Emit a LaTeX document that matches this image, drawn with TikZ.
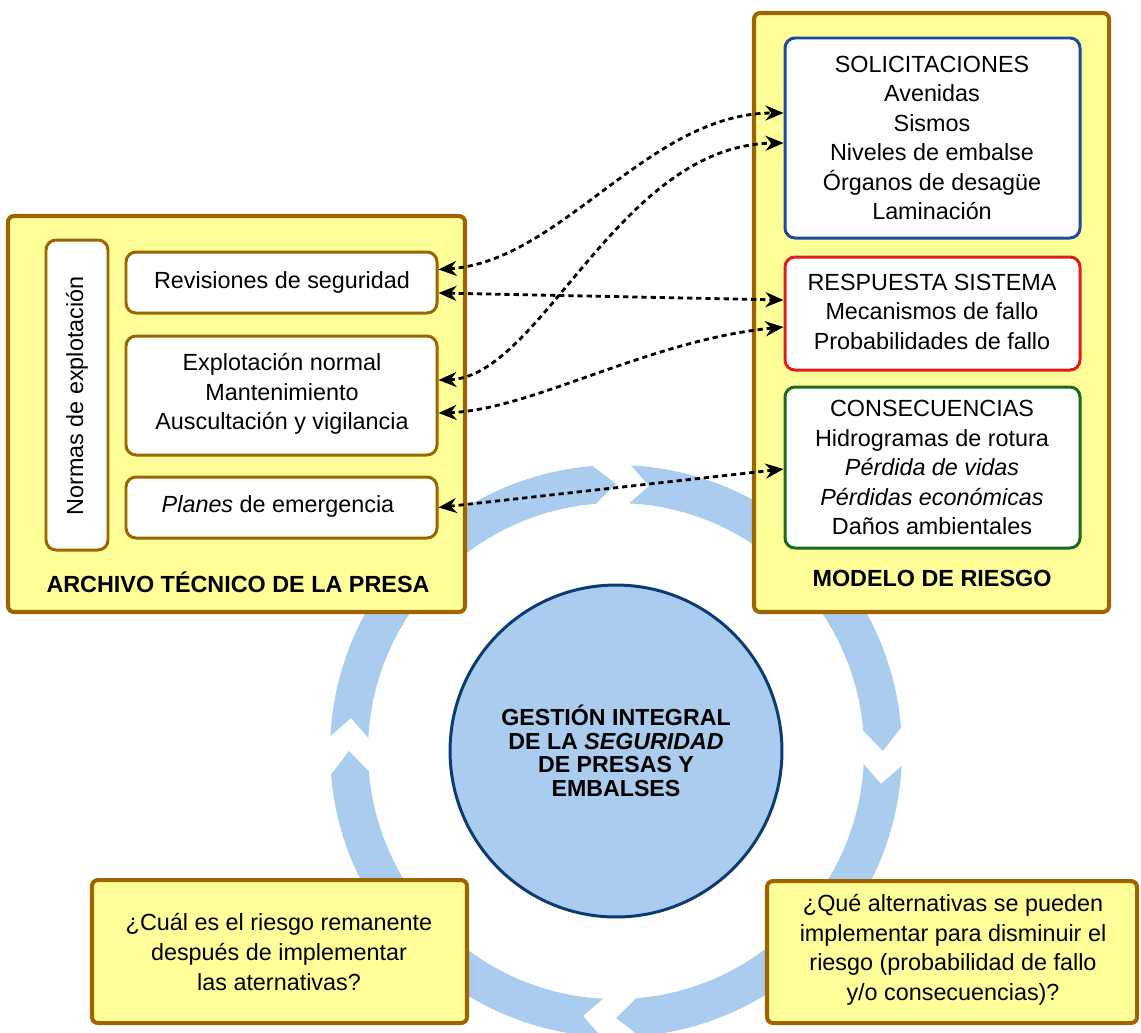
\documentclass[tikz,border=0pt]{standalone}
\usepackage{fontspec}
\setmainfont{Liberation Sans}
\usetikzlibrary{fit,calc,arrows.meta}
\definecolor{brownb}{HTML}{9C6500}
\definecolor{paleyel}{HTML}{FFFF99}
\definecolor{ringblue}{HTML}{AACCEE}
\definecolor{navy}{HTML}{0B3B72}
\definecolor{boxblue}{HTML}{1F4AA0}
\definecolor{boxred}{HTML}{E31B1B}
\definecolor{boxgreen}{HTML}{1B6B1B}
\begin{document}
\begin{tikzpicture}[x=0.02cm,y=-0.02cm,
  every node/.style={font=\fontsize{13.3}{16.8}\selectfont},
  bigbox/.style={draw=brownb, fill=paleyel, line width=2.3pt, rounded corners=0.12cm, inner sep=0pt},
  inbox/.style={draw=brownb, fill=white, line width=1.7pt, rounded corners=0.2cm, inner sep=0pt},
  solbox/.style={inbox, draw=boxblue},
  resbox/.style={inbox, draw=boxred},
  conbox/.style={inbox, draw=boxgreen},
  txt/.style={align=center, inner sep=0pt},
  titletxt/.style={font=\fontsize{13.3}{16.8}\selectfont\bfseries},
  coretxt/.style={font=\fontsize{13.2}{13.4}\selectfont\bfseries, align=center},
  ringpart/.style={fill=ringblue},
  conn/.style={line width=1.6pt, dash pattern=on 3pt off 2.2pt,
    {Stealth[length=3.6mm,width=3mm]}-{Stealth[length=3.6mm,width=3mm]}}
]
\useasboundingbox (0,0) rectangle (1141,1032);
\clip (0,0) rectangle (1141,1032);
% ring of four arrows
\def\Ro{286}\def\Ri{248}\def\Rm{267}
\foreach \g in {0,90,180,270}{
  \fill[ringpart, shift={(616,751)}]
    ({\g+3}:\Ro) arc[start angle={\g+3}, end angle={\g+85.3}, radius=\Ro]
    -- ({\g+90}:\Rm) -- ({\g+85.3}:\Ri)
    arc[start angle={\g+85.3}, end angle={\g+3}, radius=\Ri]
    -- ({\g+7.1}:\Rm) -- cycle;
}
% central circle
\node[circle, draw=navy, fill=ringblue, line width=1.7pt, minimum size=6.64cm, inner sep=0pt, coretxt] (core) at (616,751)
  {GESTIÓN INTEGRAL\\DE LA \textit{SEGURIDAD}\\DE PRESAS Y\\EMBALSES};
% left big box
\node[bigbox, fit={(8,216) (465,612)}] (arch) {};
\node[titletxt] (archt) at (238,582) {ARCHIVO TÉCNICO DE LA PRESA};
\node[inbox, fit={(46,240) (108,550)}] (normas) {};
\node[rotate=90] (normast) at (77,396) {Normas de explotación};
\node[inbox, fit={(126,252) (437,313)}] (rev) {};
\node[txt] (revt) at (282,282) {Revisiones de seguridad};
\node[inbox, fit={(126,336) (437,455)}] (expl) {};
\node[txt] (explt) at (282,394) {Explotación normal\\Mantenimiento\\Auscultación y vigilancia};
\node[inbox, fit={(126,477) (437,538)}] (plan) {};
\node[txt] (plant) at (278,506) {\textit{Planes} de emergencia};
% right big box
\node[bigbox, fit={(754,13) (1109,612)}] (model) {};
\node[titletxt] (modelt) at (932,578) {MODELO DE RIESGO};
\node[solbox, fit={(785,38) (1080,238)}] (sol) {};
\node[txt] (solt) at (932,138) {SOLICITACIONES\\Avenidas\\Sismos\\Niveles de embalse\\Órganos de desagüe\\Laminación};
\node[resbox, fit={(785,257) (1080,370)}] (resp) {};
\node[txt] (respt) at (932,311.5) {RESPUESTA SISTEMA\\Mecanismos de fallo\\Probabilidades de fallo};
\node[conbox, fit={(785,387) (1080,548)}] (cons) {};
\node[txt] (const) at (932,467.5) {CONSECUENCIAS\\Hidrogramas de rotura\\\textit{Pérdida de vidas}\\\textit{Pérdidas económicas}\\Daños ambientales};
% bottom boxes
\node[bigbox, fit={(92,880) (467,1023)}] (q1) {};
\node[txt] (q1t) at (279,952) {¿Cuál es el riesgo remanente\\después de implementar\\las aternativas?};
\node[bigbox, fit={(767,881) (1137,1023)}] (q2) {};
\node[txt] (q2t) at (953,950) {¿Qué alternativas se pueden\\implementar para disminuir el\\riesgo (probabilidad de fallo\\y/o consecuencias)?};
% connectors
\draw[conn] ($(rev.east)+(0,-13)$) .. controls +(123,-8) and +(-135,0) .. ($(sol.west)+(0,-25)$);
\draw[conn] ($(expl.east)+(0,-15.5)$) .. controls +(103,-3) and +(-165,2) .. ($(sol.west)+(0,5)$);
\draw[conn] ($(rev.east)+(0,10.5)$) -- ($(resp.west)+(0,-13.5)$);
\draw[conn] ($(expl.east)+(0,17.5)$) .. controls +(93,-3) and +(-135,13) .. ($(resp.west)+(0,13.5)$);
\draw[conn] (plan.east) -- ($(cons.west)+(0,1.5)$);
\end{tikzpicture}
\end{document}
